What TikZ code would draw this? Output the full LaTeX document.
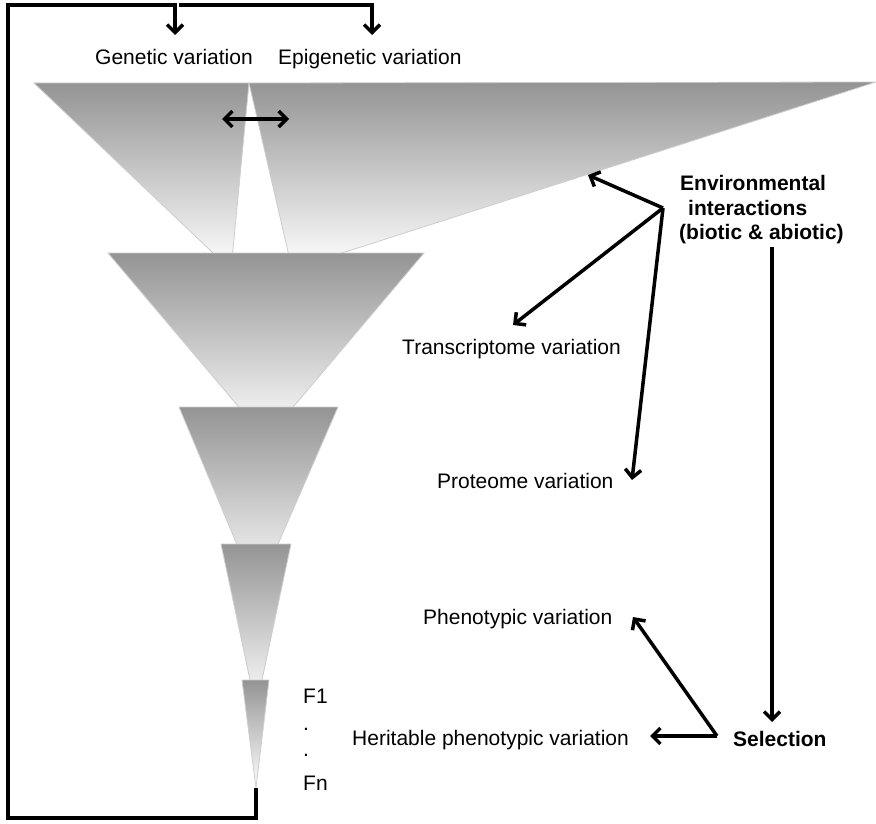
\documentclass[tikz,border=0pt]{standalone}
\usepackage{fontspec}
\setmainfont{Liberation Sans}
\usetikzlibrary{arrows.meta}
\definecolor{trigray}{RGB}{148,148,148}
\definecolor{triedge}{RGB}{205,205,205}
\begin{document}
\begin{tikzpicture}[x=1pt,y=-1pt,
  lbl/.style={font=\fontsize{21}{25}\selectfont, inner sep=0pt, anchor=base west},
  blbl/.style={font=\fontsize{21}{25}\selectfont\bfseries, inner sep=0pt, anchor=base west},
  arr/.style={line width=3.5pt, line join=miter, -{Straight Barb[length=8pt,width=16pt]}},
  darr/.style={line width=3.5pt, {Straight Barb[length=8pt,width=16pt]}-{Straight Barb[length=8pt,width=16pt]}},
  tri/.style={top color=trigray, bottom color=white, draw=triedge, line width=0.8pt}]
\useasboundingbox (0,0) rectangle (876,824);
% funnel of variation
\shade[tri] (34,83) -- (249,83) -- (231,270) -- cycle;
\shade[tri] (249,83) -- (876,82) -- (292,269) -- cycle;
\shade[tri] (108,253) -- (424,253) -- (266,439) -- cycle;
\shade[tri] (179,407) -- (338,407) -- (257,592) -- cycle;
\shade[tri] (221,544) -- (291,544) -- (256,708) -- cycle;
\shade[tri] (242,680) -- (269,680) -- (256,788) -- cycle;
% labels
\node[lbl] (gen) at (95,65) {Genetic variation};
\node[lbl] (epi) at (278,65) {Epigenetic variation};
\node[blbl] (env1) at (680,190) {Environmental};
\node[blbl] (env2) at (688,215) {interactions};
\node[blbl] (env3) at (679,240) {(biotic \& abiotic)};
\node[lbl] (trans) at (402,354) {Transcriptome variation};
\node[lbl] (prot) at (437,488) {Proteome variation};
\node[lbl] (pheno) at (423,624) {Phenotypic variation};
\node[lbl] (herit) at (352,745) {Heritable phenotypic variation};
\node[blbl] (sel) at (733,746) {Selection};
\node[lbl] (f1) at (303,703) {F1};
\node[lbl] (d1) at (303,730) {.};
\node[lbl] (d2) at (303,756) {.};
\node[lbl] (fn) at (303,790) {Fn};
% coordinates
\coordinate (fbstart) at (256,788);
\coordinate (fbbr) at (256,818);
\coordinate (fbbl) at (8,818);
\coordinate (fbtl) at (8,5);
\coordinate (fbtg) at (175,5);
\coordinate (gentip) at (175,35);
\coordinate (epistart) at (179,5);
\coordinate (epitr) at (372,5);
\coordinate (epitip) at (372,35);
\coordinate (exl) at (222,119);
\coordinate (exr) at (289,119);
\coordinate (envp) at (663,208);
\coordinate (edgetip) at (588,175);
\coordinate (trtip) at (513,325);
\coordinate (prtip) at (632,480);
\coordinate (envdown) at (772,247);
\coordinate (seltop) at (772,722);
\coordinate (selp) at (717,736);
\coordinate (herittip) at (650,736);
\coordinate (phenotip) at (633,617);
% connectors
\draw[arr] (fbstart) -- (fbbr) -- (fbbl) -- (fbtl) -- (fbtg) -- (gentip);
\draw[arr] (epistart) -- (epitr) -- (epitip);
\draw[darr] (exl) -- (exr);
\draw[arr] (envp) -- (edgetip);
\draw[arr] (envp) -- (trtip);
\draw[arr] (envp) -- (prtip);
\draw[arr] (envdown) -- (seltop);
\draw[arr] (selp) -- (herittip);
\draw[arr] (selp) -- (phenotip);
\end{tikzpicture}
\end{document}
